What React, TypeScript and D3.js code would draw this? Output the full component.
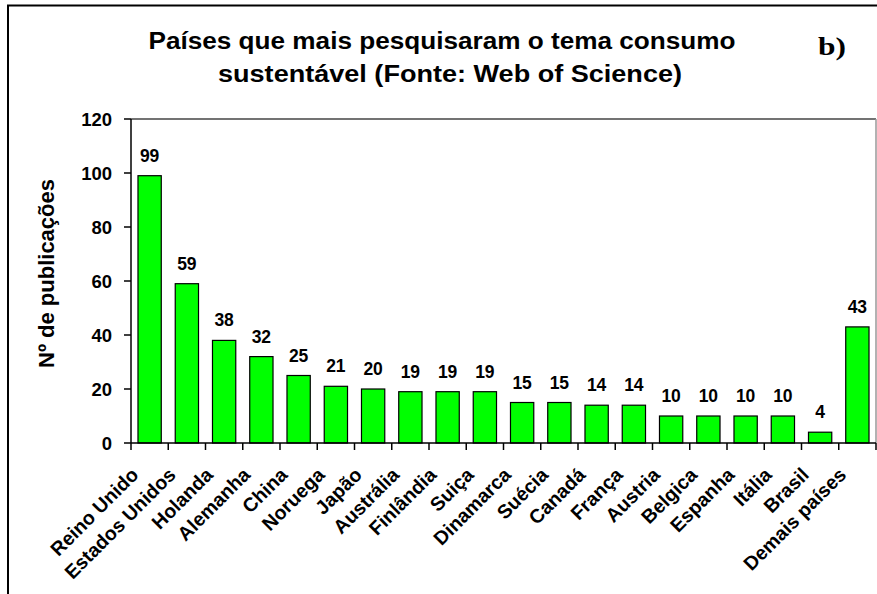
import React from 'react';
import * as d3 from 'd3';

const categories = [
  "Reino Unido", "Estados Unidos", "Holanda", "Alemanha", "China", "Noruega",
  "Japão", "Austrália", "Finlândia", "Suiça", "Dinamarca", "Suécia", "Canadá",
  "França", "Austria", "Belgica", "Espanha", "Itália", "Brasil", "Demais países",
];
const values = [99, 59, 38, 32, 25, 21, 20, 19, 19, 19, 15, 15, 14, 14, 10, 10, 10, 10, 4, 43];
const yTicks = [0, 20, 40, 60, 80, 100, 120];
const titleLines = ["Países que mais pesquisaram o tema consumo", "sustentável (Fonte: Web of Science)"];
const yLabel = "Nº de publicações";
const panelLabel = "b)";

const W = 877;
const H = 594;
const FONT = "'Liberation Sans', Arial, Helvetica, sans-serif";

export default function App() {
  const left = 131, right = 876, top = 119, bottom = 443;
  const x = d3.scaleBand<string>().domain(categories).range([left, right]).padding(0);
  const y = d3.scaleLinear().domain([0, 120]).range([bottom, top]);
  const bw = x.bandwidth() * 0.625;
  const boundaries = d3.range(categories.length + 1).map(i => left + i * x.step());

  return (
    <div style={{ position: 'absolute', left: 0, top: 0 }}>
      <svg width={W} height={H} style={{ display: 'block', background: '#fff' }}>
        <rect x={8} y={5.5} width={W + 20} height={H + 20} fill="#fff" stroke="#000" strokeWidth={2} />
        {/* plot frame */}
        <line x1={left} x2={right} y1={top} y2={top} stroke="#444" strokeWidth={1.5} />
        <line x1={right} x2={right} y1={top} y2={bottom} stroke="#999" strokeWidth={1.5} />

        {/* title */}
        <text x={442} y={49} textAnchor="middle" fontFamily={FONT} fontWeight="bold" fontSize={23}
          textLength={587} lengthAdjust="spacingAndGlyphs">{titleLines[0]}</text>
        <text x={450} y={82} textAnchor="middle" fontFamily={FONT} fontWeight="bold" fontSize={23}
          textLength={464} lengthAdjust="spacingAndGlyphs">{titleLines[1]}</text>
        <text x={818} y={55} fontFamily="'Liberation Serif', 'Times New Roman', serif" fontWeight="bold" fontSize={26}
          textLength={28} lengthAdjust="spacingAndGlyphs">{panelLabel}</text>

        {/* bars */}
        {categories.map((c, i) => {
          const cx = (x(c) as number) + x.bandwidth() / 2;
          return (
            <g key={c}>
              <rect x={cx - bw / 2} y={y(values[i])} width={bw} height={bottom - y(values[i])}
                fill="#00FF00" stroke="#000" strokeWidth={1.2} />
              <text x={cx} y={y(values[i]) - 14} textAnchor="middle" fontFamily={FONT} fontWeight="bold" fontSize={17.5}>{values[i]}</text>
              <text transform={`translate(${cx - 10},${476}) rotate(-45)`} textAnchor="end"
                fontFamily={FONT} fontWeight="bold" fontSize={19.5}>{c}</text>
            </g>
          );
        })}

        {/* y axis */}
        <line x1={left} x2={left} y1={top} y2={bottom} stroke="#000" strokeWidth={1.5} />
        {yTicks.map(t => (
          <g key={t}>
            <line x1={left - 7} x2={left} y1={y(t)} y2={y(t)} stroke="#000" strokeWidth={1.5} />
            <text x={112} y={y(t)} dy="0.36em" textAnchor="end" fontFamily={FONT} fontWeight="bold" fontSize={18.5}>{t}</text>
          </g>
        ))}
        {/* x axis */}
        <line x1={left} x2={right} y1={bottom} y2={bottom} stroke="#000" strokeWidth={1.5} />
        {boundaries.map((b, i) => (
          <line key={i} x1={b} x2={b} y1={bottom} y2={bottom + 7} stroke="#000" strokeWidth={1.5} />
        ))}

        <text transform={`translate(54,${273.5}) rotate(-90)`} textAnchor="middle" fontFamily={FONT}
          fontWeight="bold" fontSize={22}>{yLabel}</text>
      </svg>
    </div>
  );
}
